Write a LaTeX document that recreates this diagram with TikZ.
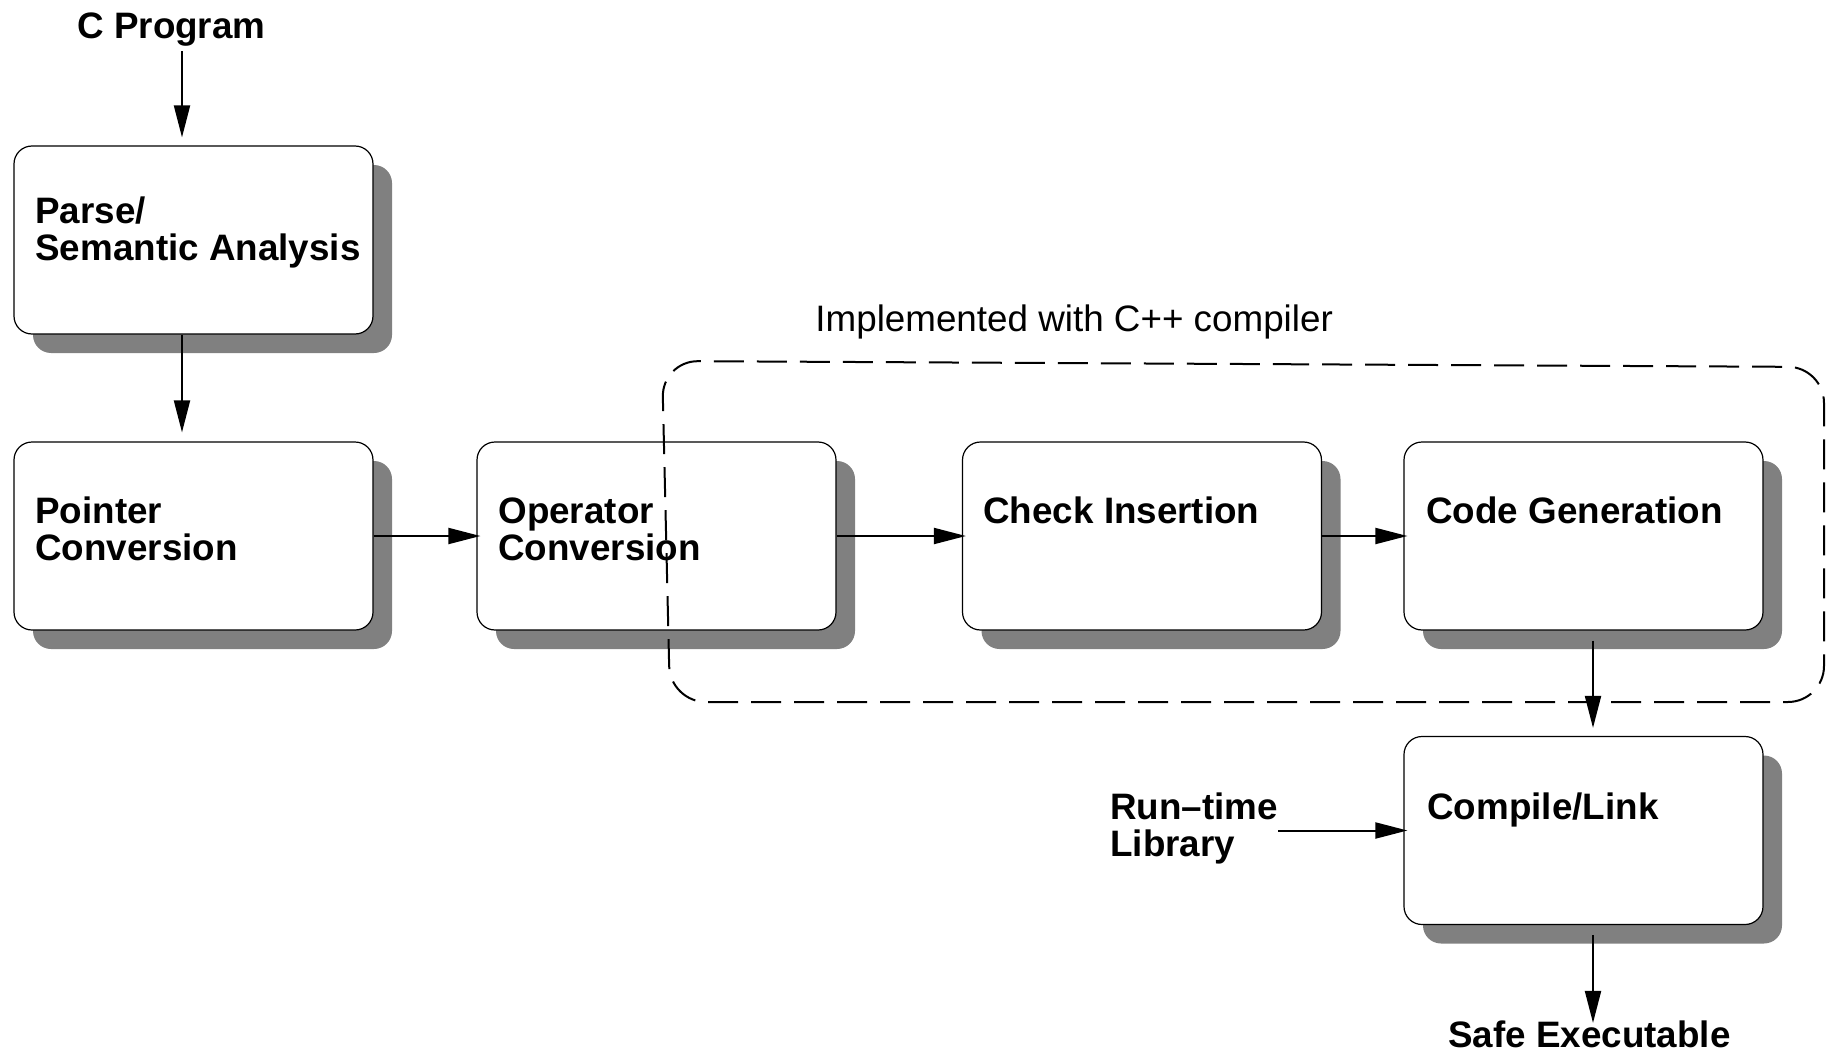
\documentclass[tikz,border=0pt]{standalone}
\usepackage{fontspec}
\setmainfont{Liberation Sans}
\usetikzlibrary{arrows.meta,shadows,calc}
\definecolor{shade}{RGB}{128,128,128}
\begin{document}
\begin{tikzpicture}[x=0.5pt,y=-0.5pt,
  stage/.style={draw=black, line width=0.6pt, fill=white, rounded corners=9pt,
    minimum width=179.5pt, minimum height=94pt, inner sep=0pt,
    drop shadow={shadow xshift=9.5pt, shadow yshift=-9.5pt, fill=shade, opacity=1}},
  lbl/.style={inner sep=0pt, anchor=base west, align=left,
    font=\fontsize{18.4}{18.5}\selectfont\bfseries},
  note/.style={inner sep=0pt, anchor=base west, font=\fontsize{18.4}{18.5}\selectfont},
  flow/.style={line width=1pt, -{Triangle[length=16pt,width=8pt]}},
  group/.style={dash pattern=on 15pt off 6.5pt, line width=1pt, rounded corners=18pt}]

\useasboundingbox (0,0) rectangle (1832,1054);

% processing stages
\node[stage] (pb) at (193.5,240) {};
\node[stage] (pc) at (193.5,536) {};
\node[stage] (oc) at (656.5,536) {};
\node[stage] (ci) at (1142,536) {};
\node[stage] (cg) at (1583.5,536) {};
\node[stage] (cl) at (1583.5,830.5) {};

% stage captions (two-line captions are placed by their last baseline)
\node[lbl] (pbt) at (35,260) {Parse/\\Semantic Analysis};
\node[lbl] (pct) at (35,560) {Pointer\\Conversion};
\node[lbl] (oct) at (498,560) {Operator\\Conversion};
\node[lbl] (cit) at (983,523) {Check Insertion};
\node[lbl] (cgt) at (1426,523) {Code Generation};
\node[lbl] (clt) at (1427,819) {Compile/Link};

% inputs and outputs
\node[lbl] (cprog) at (77,39) {C Program};
\node[lbl] (rt) at (1110,856) {Run–time\\Library};
\node[lbl] (se) at (1448,1047) {Safe Executable};
\node[note] (impl) at (815,331) {Implemented with C++ compiler};

% connectors
\coordinate (ax) at ([xshift=-5.75pt]pb.north);
\draw[flow] ([yshift=-2pt]cprog.south -| ax) -- ([yshift=4pt]ax);
\draw[flow] (pb.south -| ax) -- ([yshift=4.5pt]pc.north -| ax);
\draw[flow] (pc.east) -- ([xshift=2pt]oc.west);
\draw[flow] (oc.east) -- ([xshift=2pt]ci.west);
\draw[flow] (ci.east) -- ([xshift=2pt]cg.west);
\coordinate (bx) at ([xshift=4.75pt]cg.south);
\draw[flow] ([yshift=-5pt]bx) -- ([yshift=4pt]cl.north -| bx);
\draw[flow] (rt.east |- cl.west) -- ([xshift=2pt]cl.west);
\draw[flow] ([yshift=-5pt]cl.south -| bx) -- ([yshift=-1.5pt]se.north -| bx);

% region handled by the C++ compiler
\draw[group] (1243,364) -- (1824,367) -- (1824,702) -- (670,702) -- (662,361) -- cycle;
\end{tikzpicture}
\end{document}
